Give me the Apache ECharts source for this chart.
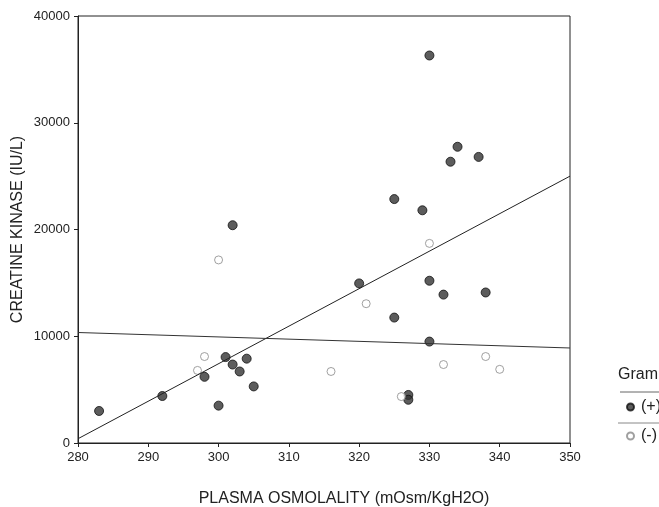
<!DOCTYPE html>
<html>
<head>
<meta charset="utf-8">
<script src="https://cdn.jsdelivr.net/npm/echarts@6/dist/echarts.min.js"></script>
<style>
html,body{margin:0;padding:0;background:#fff;}
#chart{width:659px;height:507px;}
</style>
</head>
<body>
<div id="chart"></div>
<script>
// Gram (+) observations
const posX = [283, 292, 298, 300, 301, 302, 302, 303, 304, 305, 320, 325, 325, 327, 327, 329, 330, 330, 330, 332, 333, 334, 337, 338];
const posY = [3000, 4400, 6200, 3500, 8050, 7350, 20400, 6700, 7900, 5300, 14950, 22850, 11750, 4500, 4050, 21800, 36300, 15200, 9500, 13900, 26350, 27750, 26800, 14100];
// Gram (-) observations
const negX = [297, 298, 300, 316, 321, 326, 330, 332, 338, 340];
const negY = [6800, 8100, 17150, 6700, 13050, 4350, 18700, 7350, 8100, 6900];
// Fitted regression lines (end points)
const fitX = [280, 350];
const fitPos = [400, 25000];
const fitNeg = [10350, 8900];
// Axis ticks
const xTicks = [280, 290, 300, 310, 320, 330, 340, 350];
const yTicks = [0, 10000, 20000, 30000, 40000];

const zip = (a, b) => a.map((v, i) => [v, b[i]]);
const chart = echarts.init(document.getElementById('chart'));
const font = 'Liberation Sans, Arial, sans-serif';
chart.setOption({
  animation: false,
  backgroundColor: '#fff',
  grid: { left: 78, right: 89, top: 16, bottom: 64, outerBoundsMode: 'none', containLabel: false,
    show: true, borderColor: '#222', borderWidth: 1, backgroundColor: 'transparent' },
  xAxis: {
    type: 'value', min: xTicks[0], max: xTicks[xTicks.length - 1], interval: 10,
    name: 'PLASMA OSMOLALITY (mOsm/KgH2O)', nameLocation: 'middle', nameGap: 48,
    nameTextStyle: { fontFamily: font, fontSize: 16, color: '#222', padding: [0, 0, 0, 40] },
    axisLine: { lineStyle: { color: '#222' } },
    axisTick: { show: true, length: 4, lineStyle: { color: '#222' } },
    axisLabel: { fontFamily: font, fontSize: 13, color: '#222', margin: 8, formatter: v => String(v) },
    splitLine: { show: false }
  },
  yAxis: {
    type: 'value', min: yTicks[0], max: yTicks[yTicks.length - 1], interval: 10000,
    name: 'CREATINE KINASE (IU/L)', nameLocation: 'middle', nameGap: 52, nameMoveOverlap: false,
    nameTextStyle: { fontFamily: font, fontSize: 16, color: '#222' },
    axisLine: { show: true, lineStyle: { color: '#222' } },
    axisTick: { show: true, length: 4, lineStyle: { color: '#222' } },
    axisLabel: { fontFamily: font, fontSize: 13, color: '#222', margin: 8, formatter: v => String(v) },
    splitLine: { show: false }
  },
  legend: {
    orient: 'vertical', left: 626, top: 399, padding: 0, itemGap: 13, itemWidth: 7, itemHeight: 7,
    textStyle: { fontFamily: font, fontSize: 16, color: '#222', padding: [0, 0, 0, 2] },
    data: ['(+)', '(-)']
  },
  graphic: [
    { type: 'text', left: 618, top: 367, style: { text: 'Gram', font: '16px Liberation Sans, Arial, sans-serif', fill: '#222' } },
    { type: 'line', shape: { x1: 620, y1: 392, x2: 659, y2: 392 }, style: { stroke: '#666', lineWidth: 1 } },
    { type: 'line', shape: { x1: 618, y1: 423, x2: 659, y2: 423 }, style: { stroke: '#888', lineWidth: 1 } }
  ],
  series: [
    { name: 'fit+', type: 'line', data: zip(fitX, fitPos), symbol: 'none', lineStyle: { color: '#222', width: 1 }, silent: true },
    { name: 'fit-', type: 'line', data: zip(fitX, fitNeg), symbol: 'none', lineStyle: { color: '#333', width: 1 }, silent: true },
    { name: '(+)', type: 'scatter', data: zip(posX, posY), symbol: 'circle', symbolSize: 9,
      itemStyle: { color: '#333', borderColor: '#111', borderWidth: 1 } },
    { name: '(-)', type: 'scatter', data: zip(negX, negY), symbol: 'circle', symbolSize: 8,
      itemStyle: { color: '#fff', borderColor: '#888', borderWidth: 1 } }
  ]
});
</script>
</body>
</html>
